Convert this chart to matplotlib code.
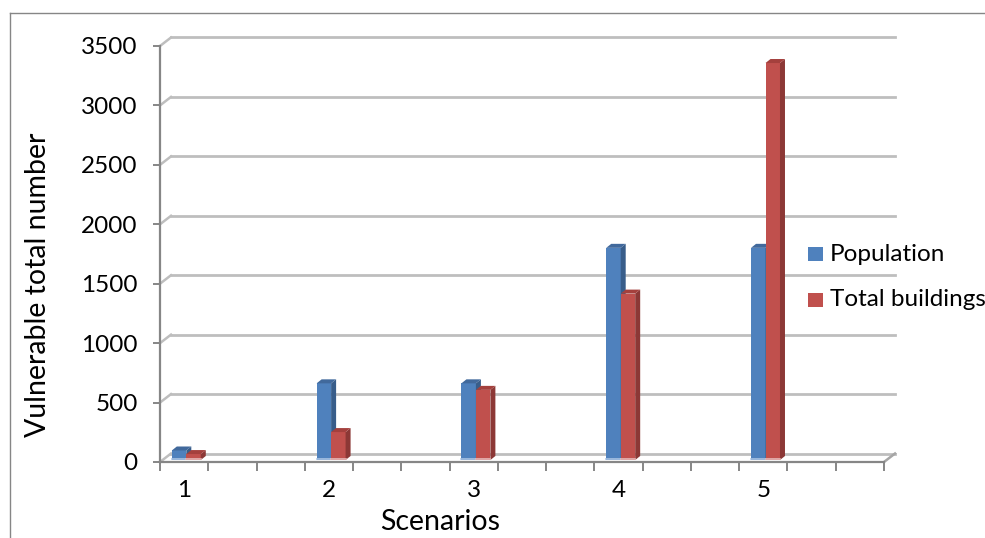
import matplotlib
matplotlib.use("Agg")
import matplotlib.pyplot as plt
from matplotlib.patches import Polygon, Rectangle
from matplotlib.lines import Line2D
from matplotlib.transforms import offset_copy

# ---- data -------------------------------------------------------------
scenarios = ["1", "2", "3", "4", "5"]
population = [80, 645, 645, 1785, 1785]
buildings = [50, 235, 590, 1400, 3340]
y_ticks = [0, 500, 1000, 1500, 2000, 2500, 3000, 3500]
series_names = ["Population", "Total buildings"]

# ---- style ------------------------------------------------------------
FONT = ["Lato", "DejaVu Sans"]
FS = 17.5
FS_TITLE = 20.5
plt.rcParams["font.family"] = FONT

front_cols = ["#4F81BD", "#C0504D"]
side_cols = ["#385D8A", "#8C3836"]
top_cols = ["#41699C", "#A4403D"]
base_cols = ["#A9C3E3", "#E6B8B7"]
axis_col = "#868686"
grid_col = "#BEBEBE"

W, H = 985, 538
fig = plt.figure(figsize=(W / 100, H / 100), dpi=100)
fig.patch.set_facecolor("white")

# plot area (front plane)
left_px, right_px, top_px, bot_px = 160, 884, 46, 462
ax = fig.add_axes([left_px / W, 1 - bot_px / H, (right_px - left_px) / W,
                   (bot_px - top_px) / H])
slot_step = 3                      # scenarios sit on every third slot
n_slots = slot_step * len(scenarios)
ax.set_xlim(-0.5, n_slots - 0.5)
ax.set_ylim(0, y_ticks[-1])
ax.set_facecolor("none")
for s in ("top", "right"):
    ax.spines[s].set_visible(False)
for s in ("left", "bottom"):
    ax.spines[s].set_color(axis_col)
    ax.spines[s].set_linewidth(1.6)

# pixel -> data unit conversion for the pseudo-3D depth
ux = n_slots / (right_px - left_px)
uy = y_ticks[-1] / (bot_px - top_px)

# back wall with its gridlines
wdx, wdy = 11 * ux, 8.5 * uy
x_lo, x_hi = -0.5, n_slots - 0.5
for yv in y_ticks:
    ax.add_line(Line2D([x_lo + wdx, x_hi + wdx], [yv + wdy, yv + wdy],
                       color=grid_col, lw=2.0, clip_on=False, zorder=1))
    ax.add_line(Line2D([x_lo, x_lo + wdx], [yv, yv + wdy],
                       color=grid_col, lw=1.8, clip_on=False, zorder=1))
# right edge of the floor
ax.add_line(Line2D([x_hi, x_hi + wdx], [0, wdy], color="#A6A6A6", lw=1.8,
                   clip_on=False, zorder=1))

# ticks
ax.set_yticks(y_ticks)
ax.set_yticklabels([str(v) for v in y_ticks])
ax.tick_params(axis="y", direction="out", length=5, width=1.4,
               color=axis_col, labelsize=FS, pad=11, labelcolor="black")
ax.set_xticks([i - 0.5 for i in range(n_slots + 1)])
ax.set_xticklabels([])
ax.set_xticks([slot_step * i for i in range(len(scenarios))], minor=True)
ax.set_xticklabels(scenarios, minor=True)
ax.tick_params(axis="x", which="major", direction="out", length=6.5,
               width=1.4, color=axis_col)
ax.tick_params(axis="x", which="minor", length=0, labelsize=FS, pad=13,
               labelcolor="black")

# ---- bars ---------------------------------------------------------------
bar_w = 0.30
offsets = [-0.105, 0.195]
bdx, bdy = 5 * ux, 4 * uy
lift = offset_copy(ax.transData, fig=fig, x=0, y=2, units="dots")
xs = [slot_step * i for i in range(len(scenarios))]

for ci, xc in enumerate(xs):
    for si, vals in enumerate([population, buildings]):
        h = vals[ci]
        bars = ax.bar([xc + offsets[si]], [h], width=bar_w,
                      color=front_cols[si], zorder=3 + si, clip_on=False,
                      label=series_names[si] if ci == 0 else None)
        for p in bars.patches:
            p.set_transform(lift)
        x0 = xc + offsets[si] - bar_w / 2
        x1 = xc + offsets[si] + bar_w / 2
        side = Polygon([(x1, 0), (x1, h), (x1 + bdx, h + bdy), (x1 + bdx, bdy)],
                       closed=True, facecolor=side_cols[si], edgecolor="none",
                       transform=lift, zorder=3 + si, clip_on=False)
        top = Polygon([(x0, h), (x1, h), (x1 + bdx, h + bdy), (x0 + bdx, h + bdy)],
                      closed=True, facecolor=top_cols[si], edgecolor="none",
                      transform=lift, zorder=3 + si, clip_on=False)
        ax.add_patch(side)
        ax.add_patch(top)
        ax.add_line(Line2D([x0, x1], [uy * 0.8, uy * 0.8], color=base_cols[si],
                           lw=1.2, transform=lift, zorder=3 + si,
                           clip_on=False))

# ---- axis titles --------------------------------------------------------
fig.text(38 / W, 1 - 285 / H, "Vulnerable total number", rotation=90,
         ha="center", va="center", fontsize=FS_TITLE, color="black")
fig.text(440 / W, 1 - 522 / H, "Scenarios", ha="center", va="center",
         fontsize=FS_TITLE, color="black")

# ---- legend ---------------------------------------------------------------
for si, name in enumerate(series_names):
    yc = 254 + 46 * si
    fig.add_artist(Rectangle((808 / W, 1 - (yc + 7) / H), 15 / W, 14 / H,
                             transform=fig.transFigure,
                             facecolor=front_cols[si], edgecolor="none"))
    fig.text(830 / W, 1 - yc / H, name, ha="left", va="center",
             fontsize=FS, color="black")

# ---- chart frame ----------------------------------------------------------
fig.add_artist(Line2D([10 / W, 10 / W], [0, 1 - 13 / H], color=axis_col,
                      lw=1.0, transform=fig.transFigure))
fig.add_artist(Line2D([10 / W, 1], [1 - 13 / H, 1 - 13 / H], color=axis_col,
                      lw=1.0, transform=fig.transFigure))

fig.savefig("out.png", dpi=100)
